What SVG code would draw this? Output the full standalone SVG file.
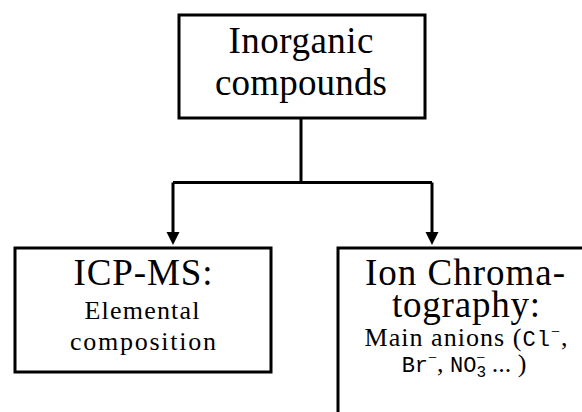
<svg xmlns="http://www.w3.org/2000/svg" width="582" height="412" viewBox="0 0 582 412">
<style>
.box{fill:#fff;stroke:#000;stroke-width:3}
.con{fill:none;stroke:#000;stroke-width:3}
.big{font-size:37px;text-anchor:middle;fill:#000}
.small{font-size:26px;text-anchor:middle;fill:#000}
.tt{font-size:22px}
.sup{font-size:16px}
</style>
<defs>
<marker id="arrow" markerUnits="userSpaceOnUse" markerWidth="14" markerHeight="14" viewBox="0 -7 14 14" refX="0" refY="0" orient="auto">
<path d="M0,-6.5 L13,0 L0,6.5 z" fill="#000"/>
</marker>
</defs>
<g id="connectors">
<path class="con" d="M301 118 V182.5"/>
<path class="con" d="M173 182.5 H432"/>
<path class="con" d="M173 182.5 V232" marker-end="url(#arrow)"/>
<path class="con" d="M432 182.5 V232" marker-end="url(#arrow)"/>
</g>
<g id="inorganic">
<rect class="box" x="179" y="15" width="246" height="103"/>
<text class="big" font-family="Liberation Serif" x="301" y="53" textLength="145">Inorganic</text>
<text class="big" font-family="Liberation Serif" x="301" y="95" textLength="172">compounds</text>
</g>
<g id="icpms">
<rect class="box" x="15" y="248" width="256" height="124"/>
<text class="big" font-family="Liberation Serif" x="143" y="285" textLength="139">ICP-MS:</text>
<text class="small" font-family="Liberation Serif" x="142" y="319" textLength="115">Elemental</text>
<text class="small" font-family="Liberation Serif" x="143" y="350" textLength="146">composition</text>
</g>
<g id="ionchrom">
<rect class="box" x="338" y="248" width="300" height="200"/>
<text class="big" font-family="Liberation Serif" x="465" y="285" textLength="200">Ion Chroma-</text>
<text class="big" font-family="Liberation Serif" x="466" y="317" textLength="148">tography:</text>
<text class="small" font-family="Liberation Serif" x="466" y="346" textLength="203">Main anions (<tspan class="tt" font-family="Liberation Mono">Cl</tspan><tspan class="sup" dy="-9">−</tspan><tspan dy="9">,</tspan></text>
<text class="small" font-family="Liberation Serif" x="464" y="372"><tspan class="tt" font-family="Liberation Mono">Br</tspan><tspan class="sup" dy="-9">−</tspan><tspan dy="9">, </tspan><tspan class="tt" font-family="Liberation Mono">NO</tspan><tspan class="sup" font-family="Liberation Mono" dy="5">3</tspan><tspan class="sup" dx="-10" dy="-14">−</tspan><tspan dy="9">  ... )</tspan></text>
</g>
</svg>
